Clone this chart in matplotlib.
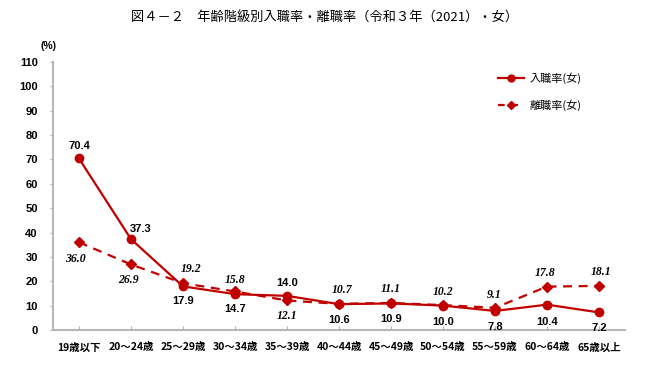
import numpy as np
import matplotlib
matplotlib.use("Agg")
import matplotlib.pyplot as plt
from matplotlib.lines import Line2D

plt.rcParams['font.family'] = ['Noto Sans CJK JP', 'DejaVu Sans']

# data
ages = ['19歳以下', '20～24歳', '25～29歳', '30～34歳', '35～39歳', '40～44歳',
        '45～49歳', '50～54歳', '55～59歳', '60～64歳', '65歳以上']
hire_rate = [70.4, 37.3, 17.9, 14.7, 14.0, 10.6, 10.9, 10.0, 7.8, 10.4, 7.2]
sep_rate = [36.0, 26.9, 19.2, 15.8, 12.1, 10.7, 11.1, 10.2, 9.1, 17.8, 18.1]
yticks = list(range(0, 111, 10))

# label offsets in pixels (dx, dy)
hire_off = [(0, 12), (10, 10), (0, -15), (0, -15), (0, 13), (0, -16),
            (0, -16), (0, -16), (0, -16), (0, -17), (0, -16)]
sep_off = [(-4, -17), (-3, -16), (8, 14), (0, 11), (0, -16), (3, 14),
           (0, 14), (0, 13), (-1, 13), (-2, 14), (2, 14)]

RED = '#C00000'

fig = plt.figure(figsize=(6.5, 3.65), dpi=100)
ax = fig.add_axes([0.0815, 0.096, 0.88, 0.734])

x = np.arange(len(ages))
ax.plot(x, hire_rate, color=RED, lw=1.6, marker='o', ms=6, zorder=3)
ax.plot(x, sep_rate, color=RED, lw=1.6, ls=(0, (4, 3)), marker='D', ms=5, zorder=3)

for i, v in enumerate(hire_rate):
    ax.annotate(f'{v:.1f}', (i, v), xytext=hire_off[i], textcoords='offset pixels',
                ha='center', va='center', fontsize=8, fontweight='bold',
                family='Liberation Sans')
for i, v in enumerate(sep_rate):
    ax.annotate(f'{v:.1f}', (i, v), xytext=sep_off[i], textcoords='offset pixels',
                ha='center', va='center', fontsize=8.5, fontweight='bold',
                fontstyle='italic', family='Liberation Serif')

ax.set_xlim(-0.5, len(ages) - 0.5)
ax.set_ylim(0, 110)
ax.set_yticks(yticks)
ax.set_yticklabels([str(t) for t in yticks], fontsize=8, fontweight='bold',
                   family='Liberation Sans')
ax.set_xticks(x)
ax.set_xticklabels(ages, fontsize=7.5, fontweight='bold')
ax.tick_params(axis='y', length=2, color='#b0b0b0', pad=9)
ax.tick_params(axis='x', length=3, color='#b0b0b0', direction='in', pad=9)

for s in ['top', 'right']:
    ax.spines[s].set_visible(False)
for s in ['left', 'bottom']:
    ax.spines[s].set_color('#b8b8b8')
    ax.spines[s].set_linewidth(1.5)

fig.text(0.074, 0.874, '(%)', fontsize=7.5, fontweight='bold', ha='center', va='center',
         family='Liberation Sans')
fig.text(0.50, 0.95, '図４－２　年齢階級別入職率・離職率（令和３年（2021）・女）',
         fontsize=9.5, ha='center', va='center')

handles = [Line2D([], [], color=RED, lw=1.6, marker='o', ms=5),
           Line2D([], [], color=RED, lw=1.6, ls=(0, (3, 3)), marker='D', ms=4)]
ax.legend(handles, ['入職率(女)', '離職率(女)'], loc='upper left',
          bbox_to_anchor=(0.76, 1.0), frameon=False, fontsize=8,
          handlelength=2.4, labelspacing=1.4, handletextpad=0.5)

fig.savefig('out.png', dpi=100)
